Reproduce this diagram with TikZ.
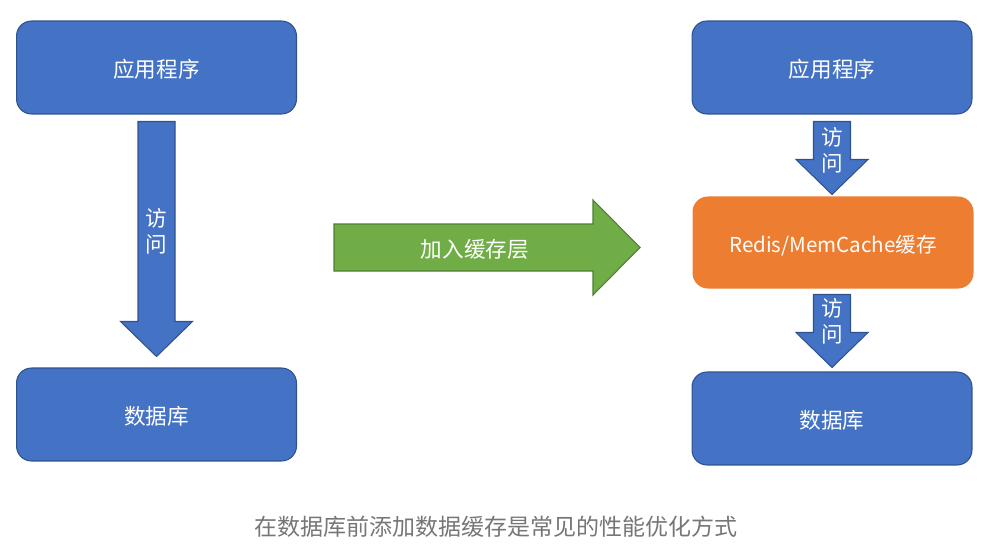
\documentclass[tikz,border=0pt]{standalone}
\usepackage{fontspec}
\newfontfamily\cjk{Noto Sans CJK SC}
\usetikzlibrary{calc}
\definecolor{boxblue}{HTML}{4472C4}
\definecolor{lineblue}{HTML}{2F528F}
\definecolor{cacheorange}{HTML}{ED7D31}
\definecolor{arrowgreen}{HTML}{70AD47}
\definecolor{linegreen}{HTML}{507E32}
\definecolor{captiongray}{HTML}{767676}

% down block arrow from #1 (top of shaft) to #2 (tip)
\newcommand{\blockdown}[2]{%
  \filldraw[fill=boxblue,draw=lineblue,line width=0.6pt]
    ($(#1)+(-18.5,0)$) -- ($(#1)+(18.5,0)$) -- ($(#2)+(18.5,-35)$)
    -- ($(#2)+(36,-35)$) -- (#2) -- ($(#2)+(-36,-35)$)
    -- ($(#2)+(-18.5,-35)$) -- cycle;}

\begin{document}
\begin{tikzpicture}[x=0.02cm,y=-0.02cm,
  box/.style={rectangle,rounded corners=0.3cm,fill=boxblue,draw=lineblue,
    line width=0.6pt,minimum width=5.6cm,minimum height=1.86cm,
    text=white,text height=11.5pt,text depth=0.5pt,
    font=\cjk\fontsize{12.3}{14}\selectfont},
  vlabel/.style={align=center,text=white,inner sep=0pt,
    font=\cjk\fontsize{12.3}{14.8}\selectfont}]
\useasboundingbox (0,0) rectangle (982,544);

% before
\node[box] (app1) at (156.5,67.5) {应用程序};
\node[box] (db1) at (156.5,414.5) {数据库};
\coordinate (a1) at ($(app1.south)+(0,7)$);
\coordinate (b1) at ($(db1.north)+(0,-11)$);
\blockdown{a1}{b1}
\node[vlabel] (l1) at (156.5,231) {访\\问};

% after
\node[box] (app2) at (832,67.5) {应用程序};
\node[box,fill=cacheorange,draw=cacheorange,minimum height=1.82cm,
  font=\cjk\fontsize{11.7}{14}\selectfont] (cache) at (833,242.5) {Redis/MemCache缓存};
\node[box] (db2) at (832,418.5) {数据库};
\coordinate (a2) at ($(app2.south)+(0,7)$);
\coordinate (b2) at ($(cache.north)+(-1,-2)$);
\coordinate (a3) at ($(cache.south)+(-1,6)$);
\coordinate (b3) at ($(db2.north)+(0,-4)$);
\blockdown{a2}{b2}
\blockdown{a3}{b3}
\node[vlabel] (l2) at (832,150) {访\\问};
\node[vlabel] (l3) at (832,321) {访\\问};

% green arrow between the two
\coordinate (g0) at (334,247.5);
\coordinate (g1) at (640,247.5);
\filldraw[fill=arrowgreen,draw=linegreen,line width=0.6pt]
  ($(g0)+(0,-23.5)$) -- ($(g1)+(-47,-23.5)$) -- ($(g1)+(-47,-47.5)$) -- (g1)
  -- ($(g1)+(-47,47.5)$) -- ($(g1)+(-47,23.5)$) -- ($(g0)+(0,23.5)$) -- cycle;
\node[vlabel] (mid) at (475,249.5) {加入缓存层};

\node[text=captiongray,font=\cjk\fontsize{13.1}{15}\selectfont] (cap) at (496,527) {在数据库前添加数据缓存是常见的性能优化方式};
\end{tikzpicture}
\end{document}
